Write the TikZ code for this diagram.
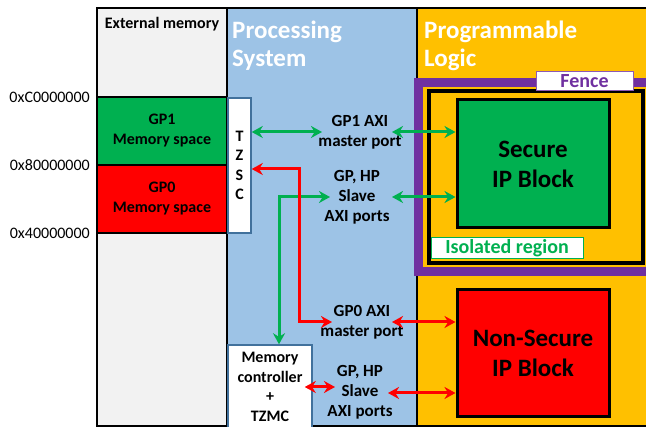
\documentclass[tikz,border=0pt]{standalone}
\usepackage{fontspec}
\setmainfont{Carlito}
\usepackage{xcolor}
\usetikzlibrary{
  arrows.meta,
  positioning,
  calc}
\definecolor{psblue}{HTML}{9DC3E6}
\definecolor{plorange}{HTML}{FFC000}
\definecolor{memgray}{HTML}{F2F2F2}
\definecolor{secgreen}{HTML}{00B050}
\definecolor{fencepurple}{HTML}{7030A0}
\definecolor{boxblue}{HTML}{41719C}
\tikzset{column/.style={draw=black, line width=1.5pt, minimum height=418pt, outer sep=0pt, inner sep=0pt},
         memspace/.style={draw=black, line width=2.5pt, minimum width=130pt, minimum height=68pt, outer sep=0pt, align=center, font=\fontsize{16}{20}\selectfont\bfseries},
         addr/.style={font=\fontsize{16}{20}\selectfont, inner sep=0pt},
         regiontitle/.style={text=white, align=left, inner sep=0pt, font=\fontsize{25}{28}\selectfont\bfseries},
         psbox/.style={draw=boxblue, line width=1.5pt, fill=white, align=center, inner sep=0pt, font=\fontsize{16}{19.5}\selectfont\bfseries},
         port/.style={align=center, inner sep=0pt, font=\fontsize{17}{20}\selectfont\bfseries},
         ipblock/.style={draw=black, line width=3pt, minimum width=152pt, align=center, font=\fontsize{25}{30}\selectfont\bfseries},
         tag/.style={fill=white, line width=1pt, inner sep=0pt, font=\fontsize{20}{24}\selectfont\bfseries},
         link/.style={line width=3pt, <->}
        }

\begin{document}
\begin{tikzpicture}[x=1pt, y=-1pt, >={Stealth[length=11pt,width=12pt]}]
\useasboundingbox (0,0) rectangle (646,427);
\node[column, fill=psblue, minimum width=190pt](ps) at (322,217){};
\node[column, fill=plorange, minimum width=240pt, right=0pt of ps](pl){};
\node[column, fill=memgray, line width=2.5pt, minimum width=130pt](extmem) at (162,217){};
\node[below=9pt of extmem.north, inner sep=0pt, font=\fontsize{16}{20}\selectfont\bfseries](extlabel){External memory};

\node[memspace, fill=secgreen](gpone) at (162,131){GP1\\Memory space};
\node[memspace, fill=red, below=0pt of gpone](gpzero){GP0\\Memory space};
\node[addr, left=7pt of gpone.north west](addrc){0xC0000000};
\node[addr, left=7pt of gpzero.north west](addreight){0x80000000};
\node[addr, left=7pt of gpzero.south west](addrfour){0x40000000};

\node[regiontitle, anchor=north west](pstitle) at (232,21){Processing\\System};
\node[regiontitle, anchor=north west](pltitle) at (424,21){Programmable\\Logic};

\node[psbox, minimum width=23pt, minimum height=135pt](tzsc) at (239.5,165.5){T\\Z\\S\\C};
\node[psbox, minimum width=84pt, minimum height=84pt](memctrl) at (270,387){Memory\\controller\\+\\TZMC};

\node[draw=fencepurple, line width=9pt, minimum width=240pt, minimum height=189pt](fence) at (538.5,177.5){};
\node[draw=black, line width=4pt, minimum width=214pt, minimum height=172pt](isolated) at (536,177){};
\node[ipblock, fill=secgreen, minimum height=128pt](secure) at (533,164){Secure\\IP Block};
\node[ipblock, fill=red, minimum height=127pt](nonsecure) at (533,353.5){Non-Secure\\IP Block};
\node[tag, draw=fencepurple!80, text=fencepurple, minimum width=97pt, minimum height=19pt](fencetag) at (584.5,81.5){Fence};
\node[tag, draw=secgreen, text=secgreen, minimum width=152pt, minimum height=21pt](isotag) at (507,248.5){Isolated region};

\node[port](gponeport) at (360,132){GP1 AXI\\master port};
\node[port](slaveone) at (357,197){GP, HP\\Slave\\AXI ports};
\node[port](gpzeroport) at (362,322){GP0 AXI\\master port};
\node[port](slavetwo) at (360,392){GP, HP\\Slave\\AXI ports};

\draw[link, secgreen] (tzsc.east |- gponeport) -- ([xshift=-38pt]gponeport.center);
\draw[link, secgreen] ([xshift=32pt]gponeport.center) -- (gponeport -| secure.west);
\draw[link, secgreen] ([xshift=9pt]memctrl.north) |- ([xshift=-27pt]slaveone.center);
\draw[link, secgreen] ([xshift=35pt]slaveone.center) -- (slaveone -| secure.west);
\draw[link, red] ([yshift=-3.5pt]tzsc.east) -- ++(48,0) |- ([xshift=-30pt]gpzeroport.center);
\draw[link, red] ([xshift=30pt]gpzeroport.center) -- (gpzeroport -| nonsecure.west);
\draw[link, red] ([xshift=-8pt]memctrl.east) -- ([xshift=-25pt]memctrl.east -| slavetwo.center);
\draw[link, red] ([xshift=28pt,yshift=-1pt]slavetwo.center) -- ([yshift=-1pt]slavetwo -| nonsecure.west);
\end{tikzpicture}
\end{document}
